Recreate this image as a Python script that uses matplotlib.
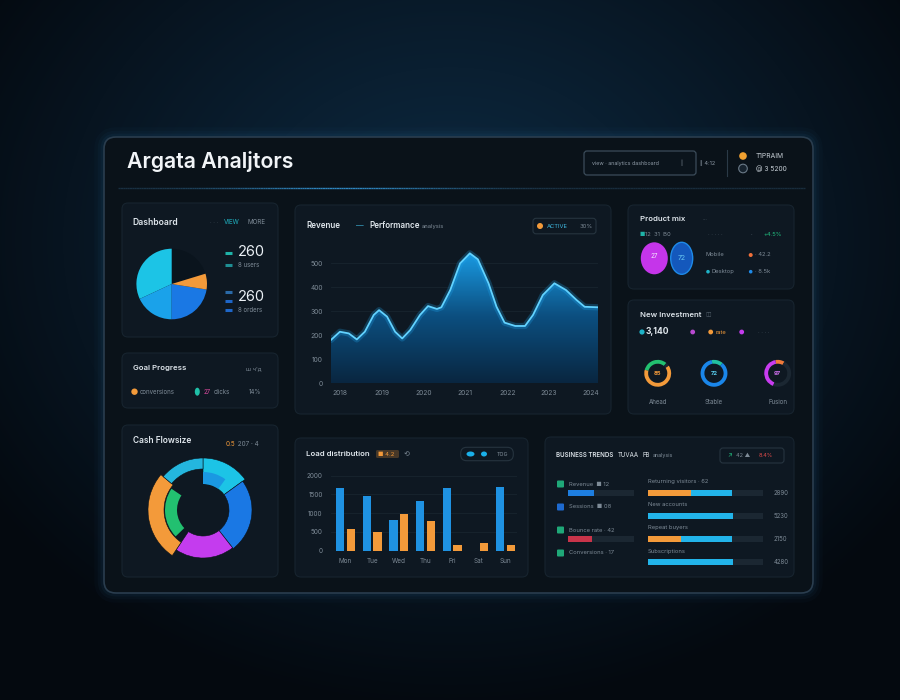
import numpy as np
import matplotlib
matplotlib.use("Agg")
import matplotlib.pyplot as plt
from matplotlib.patches import FancyBboxPatch, Wedge, Ellipse, Circle, Polygon
from matplotlib.collections import LineCollection
from matplotlib.colors import LinearSegmentedColormap

plt.rcParams['font.family'] = ['Inter', 'DejaVu Sans']

# ---------------- data ----------------
title = "Argata Analjtors"

pie_labels = ["Idle", "Direct", "Search", "Social", "Email"]
pie_values = [73, 115, 65, 81, 26]
kpi_values = ["260", "260"]
kpi_captions = ["8 users", "8 orders"]

area_days = [0, 1.0, 2.0, 2.9, 3.8, 4.8, 5.4, 6.3, 7.2, 8.0, 8.9, 10.0, 10.9, 11.9, 12.4, 13.4,
             14.5, 15.6, 16.5, 17.7, 18.6, 19.5, 20.7, 21.8, 22.7, 23.8, 25.1, 26.4, 27.6, 28.5, 30.0]
area_values = [181, 215, 208, 183, 215, 285, 305, 278, 215, 187, 222, 285, 322, 310, 317, 389,
               500, 542, 517, 417, 319, 253, 239, 239, 285, 368, 417, 389, 347, 319, 317]
area_ticks = [0, 100, 200, 300, 400, 500]
area_xlabels = ["2018", "2019", "2020", "2021", "2022", "2023", "2024"]
area_xticks = [1.0, 5.7, 10.4, 15.1, 19.8, 24.5, 29.2]

bar_labels = ["Mon", "Tue", "Wed", "Thu", "Fri", "Sat", "Sun"]
bar_blue = [1660, 1470, 820, 1320, 1660, 0, 1700]
bar_orange = [590, 500, 980, 800, 150, 200, 150]
bar_ticks = [0, 500, 1000, 1500, 2000]

donut_labels = ["Retail", "Online", "Partners", "Direct", "Other"]
donut_values = [54, 88, 72, 96, 50]

gauge_names = ["Ahead", "Stable", "Fusion"]
gauge_center = ["85", "72", "97"]
gauge_shares = [[115, 230, 15], [50, 310], [40, 150, 170]]

list_labels = ["Revenue  \u25A0 12", "Sessions  \u25A0 08", "Bounce rate \u00B7 42", "Conversions \u00B7 17"]
list_bar = [39, 0, 37, 0]
prog_labels = ["Returning visitors \u00B7 62", "New accounts", "Repeat buyers", "Subscriptions"]
prog_orange = [37, 0, 29, 0]
prog_cyan = [36, 74, 44, 74]
prog_values = ["2890", "5230", "2150", "4280"]

# ---------------- style ----------------
W, H = 900, 700
PANEL = "#0a1219"
CARD = "#0e1822"
CARD_EC = "#17242f"
TXT = "#dfe6ec"
MUTED = "#7e8b97"
CYAN = "#1cc4e6"
BLUE = "#1a78e4"
LBLUE = "#1aa2ea"
ORANGE = "#f39a3a"
MAGENTA = "#c43cee"
GREEN = "#22c070"
TRACK = "#1b2732"

fig = plt.figure(figsize=(9, 7), dpi=100)
ax0 = fig.add_axes([0, 0, 1, 1])
ax0.set_xlim(0, W)
ax0.set_ylim(H, 0)
ax0.axis("off")

# background radial gradient
yy, xx = np.mgrid[0:H, 0:W]
d = np.sqrt(((xx - 450) / 560) ** 2 + ((yy - 240) / 470) ** 2)
t = np.clip(d, 0, 1) ** 1.1
c0 = np.array([0x0d, 0x2a, 0x42]) / 255
c1 = np.array([0x04, 0x09, 0x0f]) / 255
img = c0 * (1 - t)[..., None] + c1 * t[..., None]
ax0.imshow(img, extent=(0, W, H, 0), zorder=0, aspect="auto")
ax0.set_xlim(0, W)
ax0.set_ylim(H, 0)

# main panel with glow
for lw, a in [(14, 0.04), (9, 0.06), (5, 0.08)]:
    ax0.add_patch(FancyBboxPatch((104, 137), 709, 456, boxstyle="round,pad=0,rounding_size=12",
                                 fc="none", ec="#2a6a9a", lw=lw, alpha=a, zorder=1))
ax0.add_patch(FancyBboxPatch((104, 137), 709, 456, boxstyle="round,pad=0,rounding_size=12",
                             fc=PANEL, ec="#2a3d4e", lw=1.2, zorder=1.5))


def card(x0, y0, x1, y1, r=6):
    ax0.add_patch(FancyBboxPatch((x0, y0), x1 - x0, y1 - y0, boxstyle=f"round,pad=0,rounding_size={r}",
                                 fc=CARD, ec=CARD_EC, lw=0.8, zorder=2))


def txt(x, y, s, fs=4.6, c=MUTED, ha="left", va="center", **kw):
    return ax0.text(x, y, s, fontsize=fs, color=c, ha=ha, va=va, zorder=5, **kw)


def px_axes(x0, y0, x1, y1):
    a = fig.add_axes([x0 / W, 1 - y1 / H, (x1 - x0) / W, (y1 - y0) / H])
    a.set_facecolor("none")
    return a


# ---------------- header ----------------
tt = txt(127, 161, title, fs=15, c="#f2f5f8", weight="semibold")
fig.canvas.draw()
bb = tt.get_window_extent()
tt.set_fontsize(15 * 167 / bb.width)

ax0.add_patch(FancyBboxPatch((584, 151), 112, 24, boxstyle="round,pad=0,rounding_size=3",
                             fc="#0b141c", ec="#3b4b59", lw=0.9, zorder=3))
txt(592, 163, "view \u00B7 analytics dashboard", fs=3.8, c="#8d99a5")
txt(680, 163, "|", fs=4, c="#8d99a5")
txt(700, 163, "\u2225 4:12", fs=4, c="#8d99a5")
ax0.plot([727, 727], [150, 176], color="#2b3a47", lw=0.8, zorder=3)
ax0.add_patch(Circle((743, 156), 3.8, fc="#f0a030", ec="none", zorder=4))
ax0.add_patch(Circle((743, 168.5), 4.3, fc="#17232e", ec="#6b7a88", lw=0.8, zorder=4))
txt(756, 156, "T1PRAIM", fs=4.8, c="#c9d1d8")
txt(756, 168.5, "@ 3 5200", fs=4.8, c="#c9d1d8")

# divider with highlight
xs = np.linspace(118, 805, 300)
segs = [[(xs[i], 188.3), (xs[i + 1], 188.3)] for i in range(len(xs) - 1)]
glow = np.exp(-((xs[:-1] - 340) / 120) ** 2)
base = np.array([0x18, 0x2c, 0x3c]) / 255
hi = np.array([0x2e, 0x86, 0xc0]) / 255
cols = [tuple(base * (1 - g) + hi * g) for g in glow]
ax0.add_collection(LineCollection(segs, colors=cols, linewidths=1.0, zorder=3))

# ---------------- cards ----------------
card(122, 203, 278, 337)
card(122, 353, 278, 408)
card(122, 425, 278, 577)
card(295, 205, 611, 414)
card(628, 205, 794, 289)
card(628, 300, 794, 414)
card(295, 438, 528, 577)
card(545, 437, 794, 577)

# ---- top-left: pie + KPIs ----
txt(132, 222.5, "Dashboard", fs=6.2, c=TXT, weight="semibold")
txt(210, 222, "\u00B7 \u00B7 \u00B7", fs=4, c="#55626e")
txt(224, 222, "VIEW", fs=4.5, c="#20b4c4")
txt(247, 222, "MORE", fs=4.5, c=MUTED)

axp = px_axes(171.7 - 36, 284 - 36, 171.7 + 36, 284 + 36)
axp.pie(pie_values, colors=["#0a141d", CYAN, LBLUE, BLUE, ORANGE], startangle=17, counterclock=True,
        radius=1, wedgeprops=dict(edgecolor="none"))
axp.set_xlim(-1.02, 1.02)
axp.set_ylim(-1.02, 1.02)

for (y, c) in [(253.3, "#1fb3a8"), (265, "#1f8f94"), (292.3, "#2a6aa8"), (301, "#1e66c8"), (310, "#1e66c8")]:
    ax0.plot([225, 232], [y, y], color=c, lw=2.2, solid_capstyle="butt", zorder=4)
txt(237.5, 252.3, kpi_values[0], fs=10.5, c="#eaf0f5")
txt(237.5, 296.7, kpi_values[1], fs=10.5, c="#eaf0f5")
txt(237.5, 265, kpi_captions[0], fs=4.4, c=MUTED)
txt(237.5, 310, kpi_captions[1], fs=4.4, c=MUTED)

# ---- middle-left: legend card ----
txt(133, 368.3, "Goal Progress", fs=5.6, c=TXT, weight="semibold")
txt(246, 368.3, "\u0448 \u0447'\u0434", fs=4.2, c=MUTED)
ax0.add_patch(Circle((134.5, 391.7), 3.2, fc=ORANGE, ec="none", zorder=4))
txt(140, 391.7, "conversions", fs=4.4, c=MUTED)
ax0.add_patch(Ellipse((197.3, 391.7), 5, 8, fc="#1fc0a8", ec="none", zorder=4))
txt(204, 391.7, "27", fs=4.4, c="#e04aa0")
txt(214, 391.7, "clicks", fs=4.4, c=MUTED)
txt(249, 391.7, "14%", fs=4.4, c=MUTED)

# ---- bottom-left: donut ----
txt(133, 440.7, "Cash Flowsize", fs=6.0, c=TXT, weight="semibold")
txt(226, 444, "0.5", fs=4.6, c=ORANGE)
txt(236, 444, " 207 \u00B7 4", fs=4.6, c=MUTED)

axd = px_axes(143, 450, 263, 570)
axd.set_xlim(-60, 60)
axd.set_ylim(-60, 60)
axd.axis("off")
donut_colors = [CYAN, BLUE, MAGENTA, ORANGE, "#24b6de"]
donut_radii = [(26, 52), (26, 49), (26, 48), (39, 55), (41, 52)]
cum = np.concatenate([[0], np.cumsum(donut_values)])
for i, v in enumerate(donut_values):
    th2 = 90 - cum[i]
    th1 = 90 - cum[i + 1]
    r0, r1 = donut_radii[i]
    axd.add_patch(Wedge((0, 0), r1, th1, th2, width=r1 - r0, fc=donut_colors[i], ec=PANEL, lw=0.4))
    if i == 3:  # inner green ring under the orange segment
        axd.add_patch(Wedge((0, 0), 38, th1 + 6, th2 - 12, width=12, fc=GREEN, ec="none"))
    if i == 0:  # inner lighter blue portion
        axd.add_patch(Wedge((0, 0), 38, th1 + 18, th2, width=12, fc="#1a98e2", ec="none"))

# ---- area chart ----
txt(306, 226, "Revenue", fs=5.8, c=TXT, weight="semibold")
txt(356, 226, "\u2014", fs=5.5, c="#3fb8e0")
txt(369, 226, "Performance", fs=5.8, c=TXT, weight="semibold")
txt(422, 226.5, "analysis", fs=4.2, c=MUTED)
ax0.add_patch(FancyBboxPatch((533, 218.3), 63, 15.5, boxstyle="round,pad=0,rounding_size=3",
                             fc="none", ec="#26343f", lw=0.8, zorder=3))
ax0.add_patch(Circle((540, 226), 3.0, fc=ORANGE, ec="none", zorder=4))
txt(547, 226, "ACTIVE", fs=4.2, c="#3fb8e0")
txt(580, 226, "30%", fs=4.2, c=MUTED)

axA = px_axes(331, 249, 598, 383.3)
axA.set_xlim(0, 30)
axA.set_ylim(0, 560)
for s in axA.spines.values():
    s.set_visible(False)
for v in area_ticks[1:]:
    axA.axhline(v, color="#18242f", lw=0.6, zorder=0)
axA.axhline(0, color="#1f2d39", lw=0.8, zorder=0)
axA.set_yticks(area_ticks)
axA.set_yticklabels([str(v) for v in area_ticks])
axA.set_xticks(area_xticks)
axA.set_xticklabels(area_xlabels)
axA.tick_params(colors=MUTED, labelsize=4.8, length=0, pad=6)
axA.tick_params(axis="x", pad=5)

cmapA = LinearSegmentedColormap.from_list("a", ["#092640", "#0c4f80", "#1aa0ea"])
grad = np.linspace(0, 1, 256).reshape(-1, 1)
im = axA.imshow(grad, extent=(0, 30, 0, 560), origin="lower", aspect="auto", cmap=cmapA, zorder=1)
verts = np.column_stack([np.r_[area_days, area_days[::-1]],
                         np.r_[area_values, np.zeros(len(area_values))]])
clip = Polygon(verts, closed=True, fc="none", ec="none", transform=axA.transData)
axA.add_patch(clip)
im.set_clip_path(clip)
axA.set_xlim(0, 30)
axA.set_ylim(0, 560)
axA.plot(area_days, area_values, color="#1fa8f0", lw=4.5, alpha=0.25, zorder=2, solid_capstyle="round")
axA.plot(area_days, area_values, color="#62d2ff", lw=1.3, zorder=3, solid_joinstyle="round")

# ---- product mix ----
txt(640, 219.3, "Product mix", fs=5.6, c=TXT, weight="semibold")
txt(703, 219.3, "\u00B7\u00B7\u00B7", fs=4.2, c="#55626e")
txt(639, 234.3, "\u25A0", fs=4.2, c="#1fb3a8")
txt(645, 234.3, "12  31  B0", fs=4.2, c=MUTED)
txt(708, 234.3, "\u00B7 \u00B7 \u00B7 \u00B7 \u00B7", fs=4.2, c="#55626e")
txt(751, 234.3, "\u00B7", fs=4.2, c=MUTED)
txt(763, 234.3, "+4.5%", fs=4.2, c="#22c080")
ax0.add_patch(Ellipse((654.3, 258.3), 27, 32, fc="#c535ea", ec="none", zorder=4))
ax0.add_patch(Ellipse((681.7, 258.3), 22, 32, fc="#1458bc", ec="#1e8ae8", lw=1.0, zorder=4))
txt(654.3, 256, "27", fs=4.5, c="#f5e6ff", ha="center")
txt(681.7, 258, "72", fs=5, c="#69c8f2", ha="center")
txt(705, 255, "Mobile", fs=4.2, c=MUTED)
ax0.add_patch(Circle((750.7, 255), 2.0, fc="#f0703a", ec="none", zorder=4))
txt(755, 255, "\u00B7 42.2", fs=4.2, c=MUTED)
ax0.add_patch(Circle((708, 271.7), 1.8, fc="#1fb3c8", ec="none", zorder=4))
txt(712, 271.7, "Desktop", fs=4.2, c=MUTED)
ax0.add_patch(Circle((750.7, 271.7), 1.8, fc="#1e8ae8", ec="none", zorder=4))
txt(755, 271.7, "\u00B7 8.5k", fs=4.2, c=MUTED)

# ---- gauges ----
txt(640, 315, "New Investment", fs=5.6, c=TXT, weight="semibold")
txt(705, 315, "\u25EB", fs=4.2, c="#55626e")
ax0.add_patch(Circle((642, 332), 2.6, fc="#1fb3c8", ec="none", zorder=4))
txt(646, 332, "3,140", fs=6.2, c=TXT, weight="bold")
ax0.add_patch(Circle((692.7, 332), 2.4, fc="#b84ad0", ec="none", zorder=4))
ax0.add_patch(Circle((710.7, 332), 2.4, fc=ORANGE, ec="none", zorder=4))
txt(716, 332, "rate", fs=4.2, c=ORANGE)
ax0.add_patch(Circle((741.7, 332), 2.4, fc=MAGENTA, ec="none", zorder=4))
txt(758, 332, "\u00B7 \u00B7 \u00B7 \u00B7", fs=4.2, c="#55626e")

gauge_xy = [(657.7, 373.3), (714.0, 373.3), (777.7, 373.3)]
gauge_colors = [[GREEN, ORANGE, TRACK], ["#22c0a0", "#1a86ea"], ["#f07a3a", "#c83cf0", TRACK]]
gauge_start = [50, 50, 60]
gauge_txtc = [ORANGE, "#5ad0f0", "#d070f0"]
for k in range(3):
    cx, cy = gauge_xy[k]
    ag = px_axes(cx - 16, cy - 16, cx + 16, cy + 16)
    ag.pie(gauge_shares[k], colors=gauge_colors[k], startangle=gauge_start[k], counterclock=True,
           radius=0.84, wedgeprops=dict(width=0.24, edgecolor="none"))
    ag.set_xlim(-1, 1)
    ag.set_ylim(-1, 1)
    txt(cx, cy, gauge_center[k], fs=4.2, c=gauge_txtc[k], ha="center", weight="bold")
    txt(cx, 401.7, gauge_names[k], fs=4.4, c=MUTED, ha="center")

# ---- bar chart ----
txt(306, 454, "Load distribution", fs=5.6, c=TXT, weight="semibold")
ax0.add_patch(FancyBboxPatch((376, 450), 23, 8, boxstyle="round,pad=0,rounding_size=1.5",
                             fc="#f39a3a", ec="none", alpha=0.25, zorder=3))
txt(377.5, 454, "\u25A0 4.2", fs=4.3, c=ORANGE)
txt(404, 454, "\u27F2", fs=5, c=MUTED)
ax0.add_patch(FancyBboxPatch((460.7, 447.3), 52.6, 13.4, boxstyle="round,pad=0,rounding_size=6",
                             fc="none", ec="#26343f", lw=0.8, zorder=3))
ax0.add_patch(Ellipse((470.5, 454), 8, 5, fc="#1ab0ea", ec="none", zorder=4))
ax0.add_patch(Ellipse((484, 454), 6, 5, fc="#1ab0ea", ec="none", zorder=4))
txt(497, 454, "TOG", fs=3.8, c=MUTED)

axB = px_axes(331, 470, 517, 550.7)
xb = np.arange(len(bar_labels))
axB.set_xlim(-0.54, 6.43)
axB.set_ylim(0, 2150)
for s in axB.spines.values():
    s.set_visible(False)
for v in bar_ticks[1:]:
    axB.axhline(v, color="#18242f", lw=0.6, zorder=0)
axB.axhline(0, color="#1f2d39", lw=0.8, zorder=0)
axB.bar(xb - 0.2, bar_blue, width=0.31, color="#1f92e2", zorder=2)
axB.bar(xb + 0.2, bar_orange, width=0.31, color="#f39a3a", zorder=2)
axB.set_yticks(bar_ticks)
axB.set_yticklabels([str(v) for v in bar_ticks])
axB.set_xticks(xb)
axB.set_xticklabels(bar_labels)
axB.tick_params(colors=MUTED, labelsize=4.6, length=0, pad=6)
axB.tick_params(axis="x", pad=5)

# ---- progress card ----
tb = txt(556, 455, "BUSINESS TRENDS", fs=4.4, c=TXT, weight="semibold")
fig.canvas.draw()
inv = ax0.transData.inverted()
x_end = inv.transform(tb.get_window_extent().get_points())[1][0]
t2 = txt(x_end + 4, 455, "TUVAA", fs=4.4, c=TXT)
fig.canvas.draw()
x_end = inv.transform(t2.get_window_extent().get_points())[1][0]
t3 = txt(x_end + 4, 455, "FB", fs=4.4, c=TXT)
fig.canvas.draw()
x_end = inv.transform(t3.get_window_extent().get_points())[1][0]
txt(x_end + 3, 455.5, "analysis", fs=3.9, c=MUTED)
ax0.add_patch(FancyBboxPatch((720, 448), 64, 15, boxstyle="round,pad=0,rounding_size=3",
                             fc="none", ec="#26343f", lw=0.8, zorder=3))
txt(727, 455.5, "\u2197", fs=4.4, c="#22c080")
txt(736, 455.5, "42 \u25B2", fs=4.0, c=MUTED)
txt(759, 455.5, "8.4%", fs=4.0, c="#e04a4a")

list_y = [484, 507, 530, 553]
list_sq = ["#1fa878", "#1e6ad0", "#1fa878", "#1fa878"]
for i, y in enumerate(list_y):
    ax0.add_patch(FancyBboxPatch((557, y - 3.5), 7, 7, boxstyle="round,pad=0,rounding_size=1",
                                 fc=list_sq[i], ec="none", zorder=4))
    txt(569, y, list_labels[i], fs=4.2, c=MUTED)

axL = px_axes(568, 481.5, 634, 573.5)
yl = np.arange(len(list_labels))
tracks = [100 if v > 0 else 0 for v in list_bar]
axL.barh(yl, tracks, height=0.22, color=TRACK)
axL.barh(yl, list_bar, height=0.22, color=["#1e7ee0", "#1e7ee0", "#c8344a", "#1e7ee0"])
axL.set_xlim(0, 100)
axL.set_ylim(3.5, -0.5)
axL.axis("off")

prog_y = [493, 516, 539, 562]
for i, y in enumerate(prog_y):
    txt(648, y - 11, prog_labels[i], fs=4.2, c=MUTED)
    txt(774, y, prog_values[i], fs=4.4, c=MUTED)
axP = px_axes(648.3, 481.5, 762.7, 573.5)
yp = np.arange(len(prog_labels))
axP.barh(yp, [100] * len(yp), height=0.26, color=TRACK)
axP.barh(yp, prog_orange, height=0.26, color=ORANGE)
axP.barh(yp, prog_cyan, left=prog_orange, height=0.26, color="#22b4ea")
axP.set_xlim(0, 100)
axP.set_ylim(3.5, -0.5)
axP.axis("off")

fig.savefig("out.png", dpi=100, facecolor="#05090f")
